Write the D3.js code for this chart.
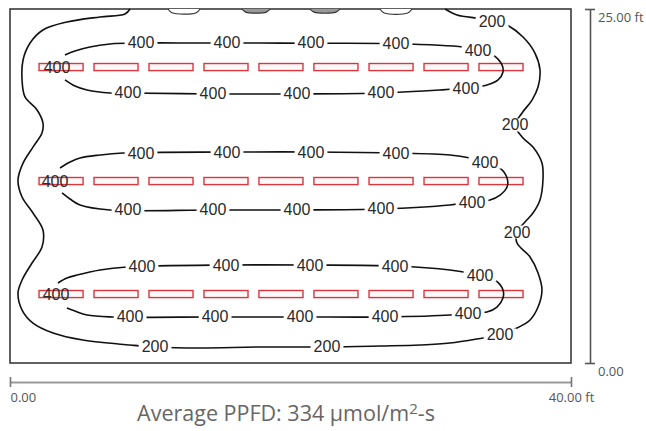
<!DOCTYPE html>
<html><head><meta charset="utf-8">
<script src="https://cdn.jsdelivr.net/npm/d3@7"></script>
<style>
html,body{margin:0;padding:0;background:#fff;}
svg{display:block;}
</style></head><body>
<svg id="chart" width="646" height="431"></svg>
<script>
// ---------- data (feet) ----------
const roomWidthFt = 40, roomDepthFt = 25;
const xTickValues = [0, 40];
const xTickLabels = ["0.00", "40.00 ft"];
const yTickValues = [0, 25];
const yTickLabels = ["0.00", "25.00 ft"];
const averagePPFD = 334;

const fixtureCentersX = [3.64, 7.56, 11.48, 15.40, 19.32, 23.24, 27.17, 31.09, 35.01];
const fixtureRowsY = [20.90, 12.85, 4.87];
const fixtureLengthFt = 3.14, fixtureWidthFt = 0.5;

// 200 µmol contour (open, ends on the top wall)
const contour200 = [[8.56,25.0],[8.20,24.65],[6.42,24.44],[4.06,24.08],[2.35,23.52],[1.43,22.60],[0.93,21.40],[0.86,19.99],[1.07,18.79],[1.93,17.87],[2.35,16.95],[2.28,16.24],[1.64,15.25],[0.93,14.12],[0.57,12.92],[0.86,11.72],[1.64,10.59],[2.35,9.39],[2.28,8.19],[1.57,7.06],[0.86,5.86],[0.57,4.94],[0.86,3.74],[1.64,2.82],[3.07,2.12],[5.20,1.62],[8.56,1.27],[10.34,1.13],[13.55,1.06],[17.83,1.13],[22.60,1.13],[26.38,1.20],[29.23,1.27],[31.37,1.41],[33.73,1.77],[34.94,1.98],[36.15,2.47],[37.08,3.04],[37.65,3.95],[37.93,5.16],[37.65,6.36],[37.08,7.49],[36.15,8.47],[36.15,9.25],[36.72,9.96],[37.29,10.59],[37.79,11.51],[38.00,12.92],[37.93,14.12],[37.29,15.25],[36.51,15.96],[36.01,16.81],[36.51,17.66],[37.22,18.57],[37.65,19.49],[37.79,20.69],[37.43,21.89],[36.58,23.02],[35.44,23.87],[34.37,24.22],[33.30,24.36],[31.87,24.58],[31.02,25.0]];
// small 200 pockets along the top wall
const pocket1 = [[11.27,25.0],[11.55,24.74],[13.25,24.72],[13.55,25.0]];
const pocket2 = [[16.54,25.0],[16.80,24.78],[18.28,24.78],[18.54,25.0]];
const pocket3 = [[21.39,25.0],[21.67,24.78],[23.25,24.78],[23.53,25.0]];
const pocket4 = [[26.38,25.0],[26.68,24.72],[28.36,24.72],[28.66,25.0]];

// 400 µmol contours, one per fixture row (open at the left label)
const contour400Row1 = [[3.92,21.75],[4.63,22.03],[5.70,22.32],[7.13,22.53],[9.34,22.60],[13.55,22.60],[17.83,22.60],[21.46,22.58],[27.52,22.55],[32.30,22.32],[33.37,22.10],[34.44,21.75],[35.08,21.05],[35.15,20.55],[34.80,19.99],[34.01,19.63],[32.51,19.42],[30.66,19.28],[26.45,19.07],[20.46,19.00],[14.47,19.00],[8.41,19.07],[7.13,19.07],[5.49,19.28],[4.63,19.56],[3.92,19.99]];
const contour400Row2 = [[3.57,13.77],[4.28,14.19],[4.99,14.48],[6.42,14.69],[8.06,14.83],[15.47,14.90],[21.46,14.90],[27.52,14.83],[31.37,14.69],[32.80,14.48],[33.87,14.19],[34.94,13.77],[35.44,13.07],[35.44,12.43],[34.94,11.86],[34.22,11.51],[32.94,11.37],[31.37,11.16],[26.45,10.88],[20.46,10.81],[14.47,10.81],[7.13,10.81],[4.99,11.16],[4.28,11.58],[3.71,12.01]];
const contour400Row3 = [[3.42,5.65],[4.06,6.00],[4.78,6.21],[6.42,6.57],[8.34,6.78],[15.40,6.92],[21.39,6.92],[27.45,6.85],[31.37,6.57],[33.51,6.21],[34.58,5.86],[35.15,5.16],[35.15,4.59],[34.72,3.95],[34.01,3.60],[32.66,3.53],[31.37,3.39],[26.74,3.25],[20.68,3.25],[14.62,3.25],[7.34,3.25],[5.49,3.39],[4.63,3.67],[4.06,3.88]];

// contour labels [x, y]
const labels200 = [[10.34,1.13],[22.60,1.13],[34.94,1.98],[36.15,9.25],[36.01,16.81],[34.37,24.15]];
const labels400 = [
  [9.34,22.60],[15.47,22.60],[21.46,22.60],[27.52,22.53],[33.37,22.10],
  [8.41,19.07],[14.47,19.00],[20.46,19.00],[26.45,19.07],[32.51,19.42],
  [9.34,14.83],[15.47,14.90],[21.46,14.90],[27.52,14.83],[33.87,14.19],
  [8.41,10.81],[14.47,10.81],[20.46,10.81],[26.45,10.88],[32.94,11.37],
  [9.41,6.78],[15.40,6.92],[21.39,6.92],[27.45,6.85],[33.51,6.21],
  [8.56,3.25],[14.62,3.25],[20.68,3.25],[26.74,3.25],[32.66,3.53]
];
const labels400OnFixture = [[3.35,20.90],[3.21,12.85],[3.28,4.87]];

// ---------- drawing ----------
const svg = d3.select("#chart");
const x = d3.scaleLinear().domain([0, roomWidthFt]).range([10, 571]);
const y = d3.scaleLinear().domain([0, roomDepthFt]).range([363, 9]);

// room outline
svg.append("rect")
  .attr("x", x(0)).attr("y", y(roomDepthFt))
  .attr("width", x(roomWidthFt) - x(0)).attr("height", y(0) - y(roomDepthFt))
  .attr("fill", "#fff").attr("stroke", "#3a3a3a").attr("stroke-width", 1.6);

// fixtures
const fixtures = [];
fixtureRowsY.forEach(ry => fixtureCentersX.forEach(cx => fixtures.push([cx, ry])));
svg.append("g").selectAll("rect").data(fixtures).join("rect")
  .attr("x", d => x(d[0] - fixtureLengthFt / 2))
  .attr("y", d => y(d[1] + fixtureWidthFt / 2))
  .attr("width", x(fixtureLengthFt) - x(0))
  .attr("height", y(0) - y(fixtureWidthFt))
  .attr("fill", "#fff8f8").attr("stroke", "#d9363e").attr("stroke-width", 1.4);

// contour lines
const line = d3.line().x(d => x(d[0])).y(d => y(d[1])).curve(d3.curveCatmullRom.alpha(0.5));
const lines = [contour200, contour400Row1, contour400Row2, contour400Row3];
svg.append("g").selectAll("path").data(lines).join("path")
  .attr("d", line).attr("fill", "none").attr("stroke", "#111").attr("stroke-width", 1.6);
const pocketFills = ["#fff", "#999", "#999", "#fff"];
svg.append("g").selectAll("path").data([pocket1, pocket2, pocket3, pocket4]).join("path")
  .attr("d", line).attr("fill", (d, i) => pocketFills[i]).attr("stroke", "#333").attr("stroke-width", 1.2);

// contour labels
const labelFont = "'Liberation Sans', Arial, sans-serif";
function addLabels(data, text, withBg) {
  const g = svg.append("g");
  data.forEach(d => {
    const t = g.append("text")
      .attr("x", x(d[0])).attr("y", y(d[1]))
      .attr("text-anchor", "middle").attr("dominant-baseline", "central")
      .attr("font-family", labelFont).attr("font-size", 16)
      .attr("fill", "#2a2a2a").text(text);
    if (withBg) {
      const b = t.node().getBBox();
      g.insert("rect", () => t.node())
        .attr("x", b.x - 3).attr("y", b.y + 2)
        .attr("width", b.width + 6).attr("height", b.height - 4)
        .attr("fill", "#fff");
    }
  });
}
addLabels(labels200, "200", true);
addLabels(labels400, "400", true);
addLabels(labels400OnFixture, "400", false);

// right axis (room depth)
const tickFont = "'Open Sans', 'Noto Sans', sans-serif";
const yAxisG = svg.append("g").attr("transform", "translate(590,0)")
  .call(d3.axisRight(y).tickValues(yTickValues).tickSize(0).tickSizeOuter(0)
    .tickFormat((d, i) => yTickLabels[i]));
yAxisG.select(".domain").attr("stroke", "#555").attr("stroke-width", 1.6);
yAxisG.selectAll(".tick line").attr("x1", -5).attr("x2", 5).attr("stroke", "#555").attr("stroke-width", 1.6);
yAxisG.selectAll(".tick text").attr("x", 8).attr("dy", "0.95em")
  .attr("font-family", tickFont).attr("font-size", 13).attr("fill", "#555");

// bottom axis (room width)
const xAxisG = svg.append("g").attr("transform", "translate(0,382)")
  .call(d3.axisBottom(x).tickValues(xTickValues).tickSize(0).tickSizeOuter(0)
    .tickFormat((d, i) => xTickLabels[i]));
xAxisG.select(".domain").attr("stroke", "#999").attr("stroke-width", 2);
xAxisG.selectAll(".tick line").attr("y1", -5).attr("y2", 5).attr("stroke", "#777").attr("stroke-width", 1.6);
xAxisG.selectAll(".tick text").attr("y", 11).attr("dy", "0.71em")
  .attr("text-anchor", (d, i) => i === 0 ? "start" : "middle")
  .attr("font-family", tickFont).attr("font-size", 13).attr("fill", "#555");

// title
const title = svg.append("text").attr("x", 286).attr("y", 421)
  .attr("text-anchor", "middle").attr("font-family", tickFont)
  .attr("font-size", 21.5).attr("fill", "#666");
title.append("tspan").text("Average PPFD: " + averagePPFD + " µmol/m");
title.append("tspan").attr("font-size", 15).attr("dy", -7).text("2");
title.append("tspan").attr("dy", 7).text("-s");
</script>
</body></html>
